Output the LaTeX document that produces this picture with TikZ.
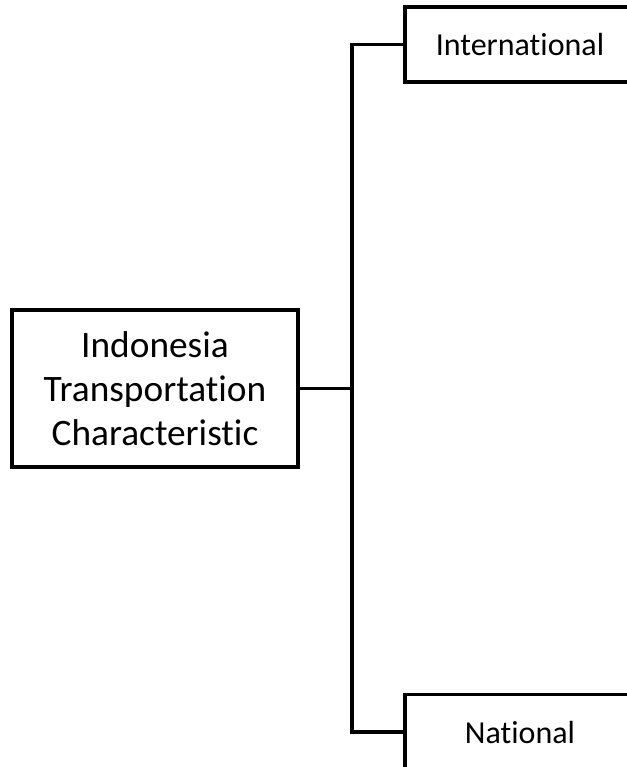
\documentclass[tikz,border=0pt]{standalone}
\usepackage{fontspec}
\setmainfont[Ligatures=NoCommon,RawFeature={-liga}]{Carlito}
\begin{document}
\begin{tikzpicture}[x=0.75pt, y=-0.75pt,
  box/.style={draw=black, line width=2.5pt, fill=white, inner sep=0pt, align=center},
  rootbox/.style={box, minimum width=214.5pt, minimum height=117.75pt,
    font=\fontsize{28}{33}\selectfont},
  leafbox/.style={box, minimum width=172.5pt, minimum height=56.25pt,
    font=\fontsize{24}{28}\selectfont},
  link/.style={draw=black, line width=2.5pt}]
  \useasboundingbox (0,0) rectangle (627,767);
  \clip (0,0) rectangle (627,767);

  % root and the two branches
  \node[rootbox] (root) at (155,388.5) {Indonesia\\Transportation\\Characteristic};
  \node[leafbox] (intl) at (520,44.5) {International};
  \node[leafbox] (natl) at (520,732) {National};

  % vertical trunk joining the branches
  \coordinate (trunk) at (352,388.5);
  \path[link] (root.east) -- (trunk);
  \path[link] (intl.west) -| (trunk) |- (natl.west);
\end{tikzpicture}
\end{document}
